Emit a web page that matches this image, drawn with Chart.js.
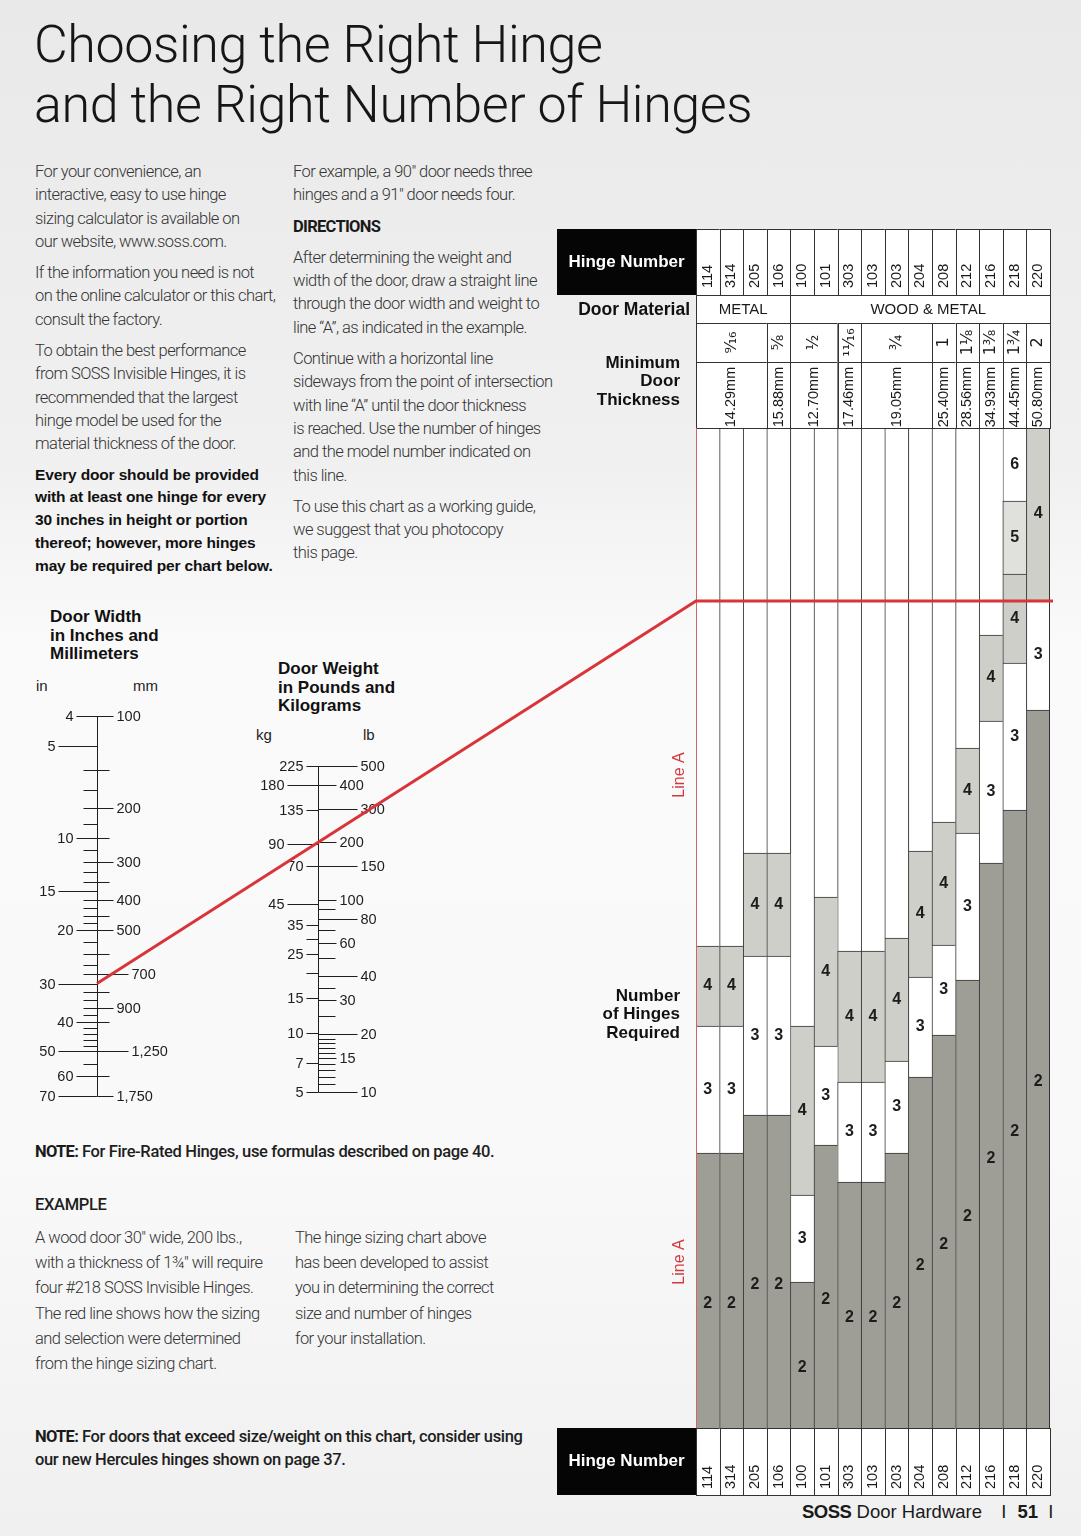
<!DOCTYPE html>
<html>
<head>
<meta charset="utf-8">
<script src="https://cdn.jsdelivr.net/npm/chart.js@4.4.1/dist/chart.umd.min.js"></script>
<style>
  html, body { margin: 0; padding: 0; }
  #page {
    position: relative; width: 1081px; height: 1536px; overflow: hidden;
    background: linear-gradient(180deg, #e9e9e9 0%, #f0f0f0 30%, #fafafa 42%, #f9f9f9 75%, #f0f0f0 100%);
    font-family: Roboto, "Liberation Sans", Arial, sans-serif; color: #2a2a2a;
  }
  .abs { position: absolute; white-space: nowrap; }
  .title { font-weight: 300; font-size: 52px; line-height: 60px; color: #161616; letter-spacing: -0.4px; }
  .txt { font-weight: 300; font-size: 16.5px; line-height: 23.3px; letter-spacing: -0.55px; color: #333; }
  .txt p { margin: 0 0 8px 0; }
  .strong { font-family: "Liberation Sans", Arial, sans-serif; font-weight: bold; font-size: 15.5px; line-height: 22.8px; color: #111; letter-spacing: -0.15px; }
  .cond { font-weight: 700; letter-spacing: -0.7px; color: #1a1a1a; }
  .note { font-weight: 500; font-size: 16.5px; line-height: 23px; letter-spacing: -0.35px; color: #1e1e1e; }
  .head { font-family: "Liberation Sans", Arial, sans-serif; font-weight: bold; font-size: 17px; line-height: 18.5px; color: #111; }
  .unit { font-family: "Liberation Sans", Arial, sans-serif; font-size: 15px; color: #222; }
  canvas { position: absolute; }
</style>
</head>
<body>
<div id="page">
  <div class="abs title" style="left:34px;top:15px">Choosing the Right Hinge<br>and the Right Number of Hinges</div>

  <div class="abs txt" style="left:35px;top:160px">
    <p>For your convenience, an<br>interactive, easy to use hinge<br>sizing calculator is available on<br>our website, www.soss.com.</p>
    <p>If the information you need is not<br>on the online calculator or this chart,<br>consult the factory.</p>
    <p>To obtain the best performance<br>from SOSS Invisible Hinges, it is<br>recommended that the largest<br>hinge model be used for the<br>material thickness of the door.</p>
    <p class="strong">Every door should be provided<br>with at least one hinge for every<br>30 inches in height or portion<br>thereof; however, more hinges<br>may be required per chart below.</p>
  </div>

  <div class="abs txt" style="left:293px;top:160px">
    <p>For example, a 90" door needs three<br>hinges and a 91" door needs four.</p>
    <p class="cond">DIRECTIONS</p>
    <p>After determining the weight and<br>width of the door, draw a straight line<br>through the door width and weight to<br>line “A”, as indicated in the example.</p>
    <p>Continue with a horizontal line<br>sideways from the point of intersection<br>with line “A” until the door thickness<br>is reached. Use the number of hinges<br>and the model number indicated on<br>this line.</p>
    <p>To use this chart as a working guide,<br>we suggest that you photocopy<br>this page.</p>
  </div>

  <div class="abs head" style="left:50px;top:608px">Door Width<br>in Inches and<br>Millimeters</div>
  <div class="abs unit" style="left:36px;top:677px">in</div>
  <div class="abs unit" style="left:133px;top:677px">mm</div>

  <div class="abs head" style="left:278px;top:660px">Door Weight<br>in Pounds and<br>Kilograms</div>
  <div class="abs unit" style="left:256px;top:726px">kg</div>
  <div class="abs unit" style="left:363px;top:726px">lb</div>

  <div class="abs note" style="left:35px;top:1140px"><span class="cond">NOTE:</span> For Fire-Rated Hinges, use formulas described on page 40.</div>
  <div class="abs note cond" style="left:35px;top:1193px">EXAMPLE</div>
  <div class="abs txt" style="left:35px;top:1225px;line-height:25.2px">A wood door 30" wide, 200 lbs.,<br>with a thickness of 1¾" will require<br>four #218 SOSS Invisible Hinges.<br>The red line shows how the sizing<br>and selection were determined<br>from the hinge sizing chart.</div>
  <div class="abs txt" style="left:295px;top:1225px;line-height:25.2px">The hinge sizing chart above<br>has been developed to assist<br>you in determining the correct<br>size and number of hinges<br>for your installation.</div>
  <div class="abs note" style="left:35px;top:1425px"><span class="cond">NOTE:</span> For doors that exceed size/weight on this chart, consider using<br>our new Hercules hinges shown on page 37.</div>

  <div class="abs" style="left:802px;top:1500px;font-family:'Liberation Sans',Arial;font-size:18.5px;line-height:24px;color:#1a1a1a">
    <b style="letter-spacing:-0.5px">SOSS</b> Door Hardware <span style="margin-left:14px">I</span> <b style="margin-left:6px">51</b> <span style="margin-left:5px">I</span>
  </div>

  <canvas id="widthChart" width="140" height="410" style="left:30px;top:700px;width:140px;height:410px"></canvas>
  <canvas id="weightChart" width="140" height="360" style="left:250px;top:750px;width:140px;height:360px"></canvas>
  <canvas id="hingeChart" width="505" height="1275" style="left:555px;top:225px;width:505px;height:1275px"></canvas>
  <canvas id="overlay" width="1081" height="1536" style="left:0;top:0;width:1081px;height:1536px;pointer-events:none"></canvas>
</div>

<script>
// hinge models, left to right
const hingeNumbers = ['114', '314', '205', '106', '100', '101', '303', '103', '203', '204', '208', '212', '216', '218', '220'];
const materialNames = ['METAL', 'WOOD & METAL'];
const materialSpans = [[0, 3], [4, 14]];
const thicknessFractions = ['⁹⁄₁₆', '⅝', '½', '¹¹⁄₁₆', '¾', '1', '1⅛', '1⅜', '1¾', '2'];
const thicknessMm = ['14.29mm', '15.88mm', '12.70mm', '17.46mm', '19.05mm', '25.40mm', '28.56mm', '34.93mm', '44.45mm', '50.80mm'];
const thicknessSpans = [[0, 2], [3, 3], [4, 5], [6, 6], [7, 9], [10, 10], [11, 11], [12, 12], [13, 13], [14, 14]];

// top edge of every band on the Line A scale (0 = bottom, 100 = top), lowest band first
const bandTops = [
  [27.5, 40.2, 48.2, 100],
  [27.5, 40.2, 48.2, 100],
  [31.3, 47.2, 57.5, 100],
  [31.3, 47.2, 57.5, 100],
  [14.6, 23.3, 40.2, 100],
  [28.3, 38.2, 53.1, 100],
  [24.6, 34.6, 47.7, 100],
  [24.6, 34.6, 47.7, 100],
  [27.5, 36.7, 49.0, 100],
  [35.1, 45.1, 57.7, 100],
  [39.3, 48.3, 60.6, 100],
  [44.8, 59.5, 68.0, 100],
  [56.5, 70.7, 79.3, 100],
  [61.8, 76.5, 85.4, 92.7, 100],
  [71.8, 82.8, 100]
];
// number of hinges required in each band (null = outside the chart's range)
const bandHinges = [
  [2, 3, 4, null],
  [2, 3, 4, null],
  [2, 3, 4, null],
  [2, 3, 4, null],
  [2, 3, 4, null],
  [2, 3, 4, null],
  [2, 3, 4, null],
  [2, 3, 4, null],
  [2, 3, 4, null],
  [2, 3, 4, null],
  [2, 3, 4, null],
  [2, 3, 4, null],
  [2, 3, 4, null],
  [2, 3, 4, 5, 6],
  [2, 3, 4]
];

// nomogram scales
const widthInchLabels = [4, 5, 10, 15, 20, 30, 40, 50, 60, 70];
const widthInchMinor = [6, 7, 8, 9, 11, 12, 13, 14, 16, 17, 18, 19, 22, 24, 26, 28, 32, 34, 36, 38, 42, 44, 46, 48, 55];
const widthMmLabels = [100, 200, 300, 400, 500, 700, 900, 1250, 1750];
const widthMmMinor = [150, 250, 350, 450, 600, 800, 1000, 1500];
const weightKgLabels = [225, 180, 135, 90, 70, 45, 35, 25, 15, 10, 7, 5];
const weightKgMinor = [30, 20];
const weightLbLabels = [500, 400, 300, 200, 150, 100, 80, 60, 40, 30, 20, 15, 10];
const weightLbMinor = [90, 70, 50, 35, 25, 19, 18, 17, 16, 14, 13, 12, 11];

// the worked example: 30" wide, 200 lb
const exampleWidthIn = 30;
const exampleWeightLb = 200;

const FONT = '"Liberation Sans", Arial, sans-serif';

function bandColor(n) {
  if (n === 2) return '#9e9e97';
  if (n === 4) return '#cecfc9';
  if (n === 5) return '#e0e0dc';
  return '#ffffff';
}

function vText(ctx, text, cx, cy, align) {
  ctx.save();
  ctx.translate(cx, cy);
  ctx.rotate(-Math.PI / 2);
  ctx.textAlign = align;
  ctx.textBaseline = 'middle';
  ctx.fillText(text, 0, 0);
  ctx.restore();
}

// hinge counts written in the bands
const bandLabels = {
  id: 'bandLabels',
  afterDatasetsDraw(chart) {
    const ctx = chart.ctx;
    ctx.save();
    ctx.font = 'bold 16px ' + FONT;
    ctx.fillStyle = '#1c1c1c';
    ctx.textAlign = 'center';
    ctx.textBaseline = 'middle';
    chart.data.datasets.forEach((ds, k) => {
      chart.getDatasetMeta(k).data.forEach((bar, i) => {
        const n = bandHinges[i][k];
        if (!ds.data[i] || n == null) return;
        const mid = (bar.y + bar.base) / 2 + (n === 2 ? 13 : 0);
        ctx.fillText(String(n), bar.x, mid);
      });
    });
    ctx.restore();
  }
};

// header rows, footer row and side captions
const hingeFrame = {
  id: 'hingeFrame',
  afterDraw(chart) {
    const { ctx, chartArea: a, scales: { x } } = chart;
    const colW = (a.right - a.left) / hingeNumbers.length;
    const colLeft = i => x.getPixelForValue(i) - colW / 2;
    const spanX = s => [colLeft(s[0]), colLeft(s[1]) + colW];
    const rows = {
      num: [a.top - 199, a.top - 133],
      mat: [a.top - 133, a.top - 105],
      frac: [a.top - 105, a.top - 66],
      mm: [a.top - 66, a.top],
      foot: [a.bottom, a.bottom + 67]
    };
    ctx.save();
    ctx.lineWidth = 1;
    ctx.strokeStyle = '#333';

    const cell = (x0, x1, r) => {
      ctx.fillStyle = '#ffffff';
      ctx.fillRect(x0, r[0], x1 - x0, r[1] - r[0]);
      ctx.strokeRect(Math.round(x0) + 0.5, Math.round(r[0]) + 0.5, Math.round(x1 - x0), Math.round(r[1] - r[0]));
    };

    hingeNumbers.forEach((h, i) => {
      cell(colLeft(i), colLeft(i) + colW, rows.num);
      cell(colLeft(i), colLeft(i) + colW, rows.foot);
    });
    materialSpans.forEach(s => { const [x0, x1] = spanX(s); cell(x0, x1, rows.mat); });
    thicknessSpans.forEach(s => {
      const [x0, x1] = spanX(s);
      cell(x0, x1, rows.frac);
      cell(x0, x1, rows.mm);
    });

    ctx.fillStyle = '#1a1a1a';
    ctx.font = '14.5px ' + FONT;
    hingeNumbers.forEach((h, i) => {
      const cx = x.getPixelForValue(i);
      vText(ctx, h, cx, rows.num[1] - 7, 'left');
      vText(ctx, h, cx, rows.foot[1] - 6, 'left');
    });
    ctx.font = '15px ' + FONT;
    ctx.textAlign = 'center';
    ctx.textBaseline = 'middle';
    materialSpans.forEach((s, j) => {
      const [x0, x1] = spanX(s);
      ctx.fillText(materialNames[j], (x0 + x1) / 2 + (j === 1 ? 8 : 0), (rows.mat[0] + rows.mat[1]) / 2 + 1);
    });
    thicknessSpans.forEach((s, j) => {
      const [x0, x1] = spanX(s);
      ctx.font = '16px "DejaVu Sans", ' + FONT;
      vText(ctx, thicknessFractions[j], (x0 + x1) / 2, (rows.frac[0] + rows.frac[1]) / 2, 'center');
      ctx.font = '14.5px ' + FONT;
      vText(ctx, thicknessMm[j], (x0 + x1) / 2, (rows.mm[0] + rows.mm[1]) / 2 + 2, 'center');
    });

    // black "Hinge Number" boxes
    ctx.fillStyle = '#050505';
    ctx.fillRect(2, rows.num[0], a.left - 2, rows.num[1] - rows.num[0]);
    ctx.fillRect(2, rows.foot[0], a.left - 2, rows.foot[1] - rows.foot[0]);
    ctx.fillStyle = '#ffffff';
    ctx.font = 'bold 17px ' + FONT;
    ctx.textAlign = 'center';
    ctx.fillText('Hinge Number', (2 + a.left) / 2, (rows.num[0] + rows.num[1]) / 2);
    ctx.fillText('Hinge Number', (2 + a.left) / 2, (rows.foot[0] + rows.foot[1]) / 2);

    // side captions
    ctx.fillStyle = '#111';
    ctx.textAlign = 'right';
    ctx.font = 'bold 17.5px ' + FONT;
    ctx.fillText('Door Material', a.left - 6, (rows.mat[0] + rows.mat[1]) / 2 + 1);
    ctx.font = 'bold 17px ' + FONT;
    ['Minimum', 'Door', 'Thickness'].forEach((t, j) => ctx.fillText(t, a.left - 16, a.top - 65 + j * 18.5));
    ['Number', 'of Hinges', 'Required'].forEach((t, j) => ctx.fillText(t, a.left - 16, a.top + 568 + j * 18.5));

    // Line A
    ctx.fillStyle = '#d23a3f';
    ctx.font = '16px ' + FONT;
    vText(ctx, 'Line A', a.left - 16, a.top + 347, 'center');
    vText(ctx, 'Line A', a.left - 16, a.top + 834, 'center');
    ctx.strokeStyle = '#c9696c';
    ctx.beginPath();
    ctx.moveTo(a.left + 0.5, a.top);
    ctx.lineTo(a.left + 0.5, a.bottom);
    ctx.stroke();
    ctx.strokeStyle = '#333';
    ctx.beginPath();
    ctx.moveTo(a.right - 0.5, a.top);
    ctx.lineTo(a.right - 0.5, a.bottom);
    ctx.stroke();
    ctx.restore();
  }
};

const bandDatasets = [0, 1, 2, 3, 4].map(k => ({
  data: bandTops.map(tops => (k < tops.length ? [k === 0 ? 0 : tops[k - 1], tops[k]] : null)),
  backgroundColor: bandHinges.map(h => bandColor(h[k])),
  borderColor: '#333',
  borderWidth: { top: 1, left: 1, right: 0, bottom: 0 },
  borderSkipped: false,
  barPercentage: 1,
  categoryPercentage: 1
}));

const hingeChart = new Chart(document.getElementById('hingeChart'), {
  type: 'bar',
  data: { labels: hingeNumbers, datasets: bandDatasets },
  options: {
    responsive: false,
    animation: false,
    layout: { padding: { left: 141, right: 10, top: 203, bottom: 72 } },
    plugins: { legend: { display: false }, tooltip: { enabled: false } },
    scales: {
      x: { stacked: true, display: false },
      y: { min: 0, max: 100, display: false }
    }
  },
  plugins: [bandLabels, hingeFrame]
});

// nomogram axis drawn from the log scales
const nomogramAxes = {
  id: 'nomogramAxes',
  afterDraw(chart, args, o) {
    const ctx = chart.ctx;
    const a = chart.chartArea;
    const ax = Math.round(a.left) + 0.5;
    const L = chart.scales.left, R = chart.scales.right;
    const yy = (s, v) => Math.round(s.getPixelForValue(v)) + 0.5;
    const seg = (x1, x2, y) => { ctx.beginPath(); ctx.moveTo(x1, y); ctx.lineTo(x2, y); ctx.stroke(); };
    ctx.save();
    ctx.strokeStyle = '#1e1e1e';
    ctx.fillStyle = '#1e1e1e';
    ctx.lineWidth = 1;
    ctx.beginPath(); ctx.moveTo(ax, a.top); ctx.lineTo(ax, a.bottom); ctx.stroke();
    ctx.font = '14.5px ' + FONT;
    ctx.textBaseline = 'middle';
    o.leftMinor.forEach(v => seg(ax - o.leftMinorLen, ax, yy(L, v)));
    o.rightMinor.forEach(v => seg(ax, ax + o.rightMinorLen, yy(R, v)));
    ctx.textAlign = 'right';
    o.leftLabels.forEach(v => {
      const edge = ax - (o.leftFar.includes(v) ? o.leftGap[1] : o.leftGap[0]);
      seg(edge + 3, ax, yy(L, v));
      ctx.fillText(v.toLocaleString('en-US'), edge, yy(L, v));
    });
    ctx.textAlign = 'left';
    o.rightLabels.forEach(v => {
      const edge = ax + (o.rightFar.includes(v) ? o.rightGap[1] : o.rightGap[0]);
      seg(ax, edge - 3, yy(R, v));
      ctx.fillText(v.toLocaleString('en-US'), edge, yy(R, v));
    });
    ctx.restore();
  }
};

function nomogram(id, padding, left, right, reverse, axisOpts) {
  return new Chart(document.getElementById(id), {
    type: 'scatter',
    data: { datasets: [] },
    options: {
      responsive: false,
      animation: false,
      layout: { padding },
      plugins: { legend: { display: false }, tooltip: { enabled: false }, nomogramAxes: axisOpts },
      scales: {
        x: { display: false },
        left: { axis: 'y', type: 'logarithmic', position: 'left', reverse, min: left[0], max: left[1], display: false },
        right: { axis: 'y', type: 'logarithmic', position: 'right', reverse, min: right[0], max: right[1], display: false }
      }
    },
    plugins: [nomogramAxes]
  });
}

// door width grows downward, door weight grows upward
const widthChart = nomogram('widthChart', { left: 67, right: 72, top: 16, bottom: 14 }, [4, 70], [100, 1750], true, {
  leftLabels: widthInchLabels, leftMinor: widthInchMinor, leftFar: [5, 15, 30, 50, 70], leftGap: [24, 42], leftMinorLen: 14,
  rightLabels: widthMmLabels, rightMinor: widthMmMinor, rightFar: [700, 1250], rightGap: [19, 34], rightMinorLen: 12
});

const weightChart = nomogram('weightChart', { left: 68, right: 71, top: 16, bottom: 18 }, [5, 225], [10, 500], false, {
  leftLabels: weightKgLabels, leftMinor: weightKgMinor, leftFar: [180, 90, 45], leftGap: [15, 34], leftMinorLen: 12,
  rightLabels: weightLbLabels, rightMinor: weightLbMinor, rightFar: [500, 300, 150, 80, 40, 20, 10], rightGap: [21, 42], rightMinorLen: 17
});

// red example line: width -> weight -> Line A, then across to the thickness column
function drawExample() {
  const page = document.getElementById('page').getBoundingClientRect();
  const at = (chart, scaleId, value) => {
    const r = chart.canvas.getBoundingClientRect();
    return { x: r.left - page.left + chart.chartArea.left, y: r.top - page.top + chart.scales[scaleId].getPixelForValue(value) };
  };
  const p1 = at(widthChart, 'left', exampleWidthIn);
  const p2 = at(weightChart, 'right', exampleWeightLb);
  const gr = hingeChart.canvas.getBoundingClientRect();
  const xA = gr.left - page.left + hingeChart.chartArea.left;
  const xEnd = gr.left - page.left + hingeChart.chartArea.right + 3;
  const yA = p1.y + (p2.y - p1.y) * (xA - p1.x) / (p2.x - p1.x);

  const ctx = document.getElementById('overlay').getContext('2d');
  ctx.strokeStyle = '#d8353a';
  ctx.lineWidth = 3;
  ctx.beginPath();
  ctx.moveTo(p1.x, p1.y);
  ctx.lineTo(xA, yA);
  ctx.lineTo(xEnd, yA);
  ctx.stroke();
}
drawExample();
</script>
</body>
</html>
